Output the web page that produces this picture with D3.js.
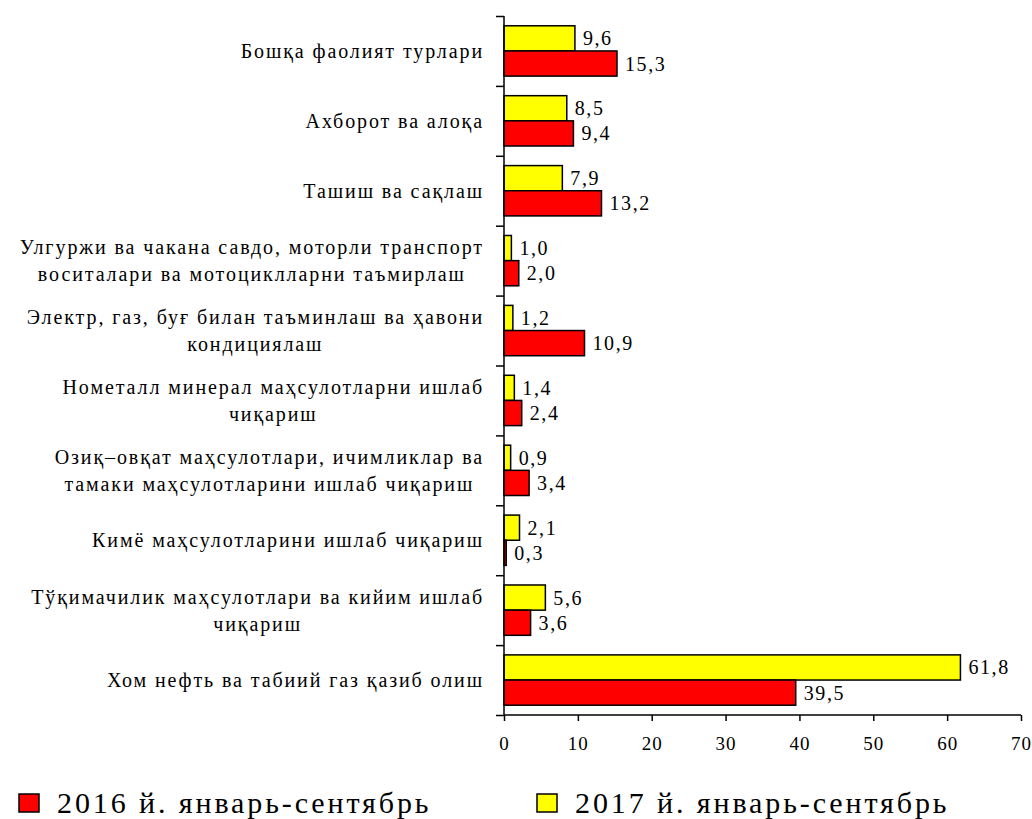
<!DOCTYPE html>
<html>
<head>
<meta charset="utf-8">
<script src="https://cdnjs.cloudflare.com/ajax/libs/d3/7.8.5/d3.min.js"></script>
<style>
body { margin:0; background:#fff; }
svg { font-family:"Liberation Serif","Times New Roman",serif; }
.axis path, .axis line { stroke:#000; stroke-width:1.5px; }
.axis text { font-size:19px; fill:#000; font-family:"Liberation Serif",serif; letter-spacing:1px; }
.catLabel { font-size:20px; fill:#000; letter-spacing:1.9px; }
.valLabel { font-size:20px; fill:#000; letter-spacing:1.6px; }
.legendText { font-size:30px; fill:#000; letter-spacing:2.9px; }
</style>
</head>
<body>
<svg id="chart"></svg>
<script>
// categories, top to bottom (line breaks as in the picture)
var categories = [
    "Бошқа фаолият турлари",
    "Ахборот ва алоқа",
    "Ташиш ва сақлаш",
    "Улгуржи ва чакана савдо, моторли транспорт\nвоситалари ва мотоциклларни таъмирлаш",
    "Электр, газ, буғ билан таъминлаш ва ҳавони\nкондициялаш",
    "Нометалл минерал маҳсулотларни ишлаб\nчиқариш",
    "Озиқ–овқат маҳсулотлари, ичимликлар ва\nтамаки маҳсулотларини ишлаб чиқариш",
    "Кимё маҳсулотларини ишлаб чиқариш",
    "Тўқимачилик маҳсулотлари ва кийим ишлаб\nчиқариш",
    "Хом нефть ва табиий газ қазиб олиш"
];
var values2017 = [9.6, 8.5, 7.9, 1.0, 1.2, 1.4, 0.9, 2.1, 5.6, 61.8];
var values2016 = [15.3, 9.4, 13.2, 2.0, 10.9, 2.4, 3.4, 0.3, 3.6, 39.5];
var seriesNames = ["2016 й. январь-сентябрь", "2017 й. январь-сентябрь"];
var xTicks = [0, 10, 20, 30, 40, 50, 60, 70];

var screen = {width:1032, height:819};
var margins = {left:504, right:11, top:16, bottom:104};
var graph = {
    width:screen.width - margins.left - margins.right,
    height:screen.height - margins.top - margins.bottom
};

var svg = d3.select("#chart")
    .attr("width", screen.width)
    .attr("height", screen.height);

var rows = categories.map(function(c, i) {
    return {name:c, v2017:values2017[i], v2016:values2016[i]};
});

var xScale = d3.scaleLinear()
    .domain([0, 70])
    .range([0, graph.width]);
var yScale = d3.scaleBand()
    .domain(categories)
    .range([0, graph.height])
    .paddingInner(0.28)
    .paddingOuter(0.14);
var ySub = d3.scaleBand()
    .domain(["v2017", "v2016"])
    .range([0, yScale.bandwidth()]);
var colors = {v2016:"#ff0000", v2017:"#ffff00"};
var fmt = function(v) { return d3.format(".1f")(v).replace(".", ","); };

var target = svg.append("g")
    .attr("transform", "translate(" + margins.left + "," + margins.top + ")");

// bars
var groups = target.selectAll(".cat")
    .data(rows)
    .enter()
    .append("g")
    .attr("class", "cat")
    .attr("transform", function(d) { return "translate(0," + yScale(d.name) + ")"; });

groups.selectAll("rect")
    .data(function(d) { return ["v2017", "v2016"].map(function(k) { return {key:k, value:d[k]}; }); })
    .enter()
    .append("rect")
    .attr("x", 0)
    .attr("y", function(d) { return ySub(d.key); })
    .attr("width", function(d) { return xScale(d.value); })
    .attr("height", ySub.bandwidth())
    .attr("fill", function(d) { return colors[d.key]; })
    .attr("stroke", "#000")
    .attr("stroke-width", 1.5);

groups.selectAll(".valLabel")
    .data(function(d) { return ["v2017", "v2016"].map(function(k) { return {key:k, value:d[k]}; }); })
    .enter()
    .append("text")
    .attr("class", "valLabel")
    .attr("x", function(d) { return xScale(d.value) + 8; })
    .attr("y", function(d) { return ySub(d.key) + ySub.bandwidth() / 2; })
    .attr("dy", "0.35em")
    .text(function(d) { return fmt(d.value); });

// axes (drawn over the bars)
var yTickScale = d3.scaleLinear().domain([0, categories.length]).range([0, graph.height]);
target.append("g")
    .attr("class", "axis")
    .call(d3.axisLeft(yTickScale).tickValues(d3.range(0, categories.length + 1)).tickSize(8).tickFormat(""))
    .select(".domain").attr("d", "M0,0V" + graph.height);
target.append("g")
    .attr("class", "axis")
    .attr("transform", "translate(0," + graph.height + ")")
    .call(d3.axisBottom(xScale).tickValues(xTicks).tickSize(6).tickSizeOuter(6).tickPadding(16))
    .select(".domain").attr("d", "M0,0H" + graph.width);

// category labels: block right aligned, lines centred inside the block
var labelRight = -20;
var lineH = 27;
rows.forEach(function(d) {
    var lines = d.name.split("\n");
    var cy = yScale(d.name) + yScale.bandwidth() / 2;
    var lbl = target.append("g");
    var texts = lbl.selectAll("text")
        .data(lines)
        .enter()
        .append("text")
        .attr("class", "catLabel")
        .attr("y", function(l, i) { return cy + (i - (lines.length - 1) / 2) * lineH; })
        .attr("dy", "0.35em")
        .attr("text-anchor", "middle")
        .text(function(l) { return l; });
    var maxW = d3.max(texts.nodes(), function(n) { return n.getComputedTextLength(); });
    texts.attr("x", labelRight - maxW / 2);
});

// legend
var legend = svg.append("g").attr("class", "legend");
var legendItems = [
    {name:seriesNames[0], color:colors.v2016, x:19},
    {name:seriesNames[1], color:colors.v2017, x:537}
];
var entries = legend.selectAll("g")
    .data(legendItems)
    .enter()
    .append("g")
    .attr("transform", function(d) { return "translate(" + d.x + ",794)"; });
entries.append("rect")
    .attr("width", 20)
    .attr("height", 18)
    .attr("fill", function(d) { return d.color; })
    .attr("stroke", "#000")
    .attr("stroke-width", 1.5);
entries.append("text")
    .attr("class", "legendText")
    .attr("x", 38)
    .attr("y", 19)
    .text(function(d) { return d.name; });
</script>
</body>
</html>
